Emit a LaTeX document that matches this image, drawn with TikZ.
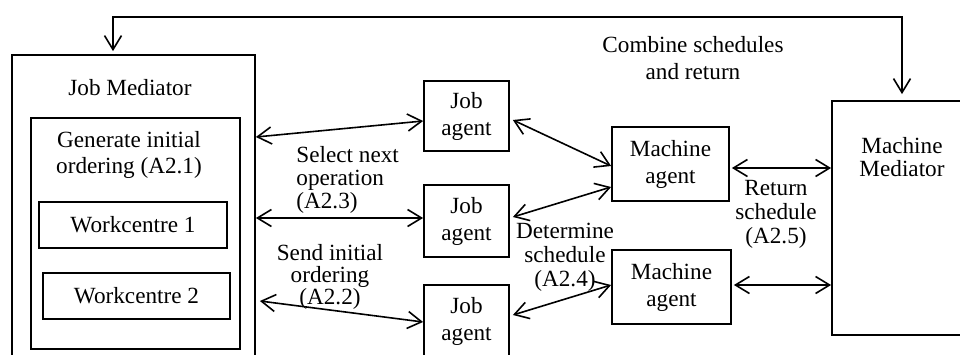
\documentclass[tikz,border=0pt]{standalone}
\usepackage{fontspec}
\setmainfont{Liberation Serif}
\usetikzlibrary{arrows.meta}
\begin{document}
\begin{tikzpicture}[x=0.5pt,y=-0.5pt,
  box/.style={draw,line width=0.9pt,inner sep=0pt,align=center,font=\fontsize{11.6}{13.5}\selectfont},
  lbl/.style={inner sep=0pt,align=center,font=\fontsize{11.6}{12}\selectfont},
  barb/.tip={Straight Barb[length=7pt,width=8.5pt,line width=0.8pt]},
  biarr/.style={line width=0.8pt,barb-barb}]
\useasboundingbox (0,0) rectangle (960,354);
\clip (0,0) rectangle (960,354);
% Job mediator
\node[box,minimum width=121.5pt,minimum height=172.5pt] (jm) at (133.5,227.5) {};
\node[lbl] (jmlabel) at (130,88) {Job Mediator};
\node[box,minimum width=104.5pt,minimum height=115.5pt] (inner) at (135.5,233.5) {};
\node[lbl,font=\fontsize{11.6}{13}\selectfont] (gen) at (129,155) {Generate initial\\ordering (A2.1)};
\node[box,minimum width=94pt,minimum height=23pt] (wc1) at (133,225) {Workcentre 1};
\node[box,minimum width=93.5pt,minimum height=23pt] (wc2) at (136.5,296) {Workcentre 2};
% Job agents
\node[box,minimum width=42.5pt,minimum height=35pt] (ja1) at (466.5,116) {Job\\agent};
\node[box,minimum width=42.5pt,minimum height=36pt] (ja2) at (466.5,221) {Job\\agent};
\node[box,minimum width=42.5pt,minimum height=36pt] (ja3) at (466.5,321) {Job\\agent};
% Machine agents
\node[box,minimum width=58.5pt,minimum height=37pt] (ma1) at (670.5,164) {Machine\\agent};
\node[box,minimum width=59.5pt,minimum height=37pt] (ma2) at (671.5,287) {Machine\\agent};
% Machine mediator
\node[box,minimum width=70pt,minimum height=117pt] (mm) at (902,218) {};
\node[lbl,font=\fontsize{11.6}{11.5}\selectfont] (mmlabel) at (902,157) {Machine\\Mediator};
% labels
\node[lbl,font=\fontsize{11.6}{13.5}\selectfont] (comb) at (693,58.5) {Combine schedules\\and return};
\node[lbl,align=left,anchor=west,font=\fontsize{11.6}{11.5}\selectfont] (sel) at (296,180) {Select next\\operation\\(A2.3)};
\node[lbl,font=\fontsize{11.6}{10.8}\selectfont] (send) at (330,277) {Send initial\\ordering\\(A2.2)};
\node[lbl] (det) at (565,257) {Determine\\schedule\\(A2.4)};
\node[lbl] (ret) at (776,214) {Return\\schedule\\(A2.5)};
% top feedback connector
\coordinate (topL) at (113,17);
\coordinate (topR) at (902,17);
\draw[biarr,shorten <=3pt,shorten >=1.5pt] (mm.north) -- (topR) -- (topL) -- (jm.north -| topL);
% connectors
\draw[biarr] (jm.east |- 0,137) -- (ja1.west |- 0,121);
\draw[biarr] (jm.east |- 0,218) -- (ja2.west |- 0,218);
\draw[biarr] ([xshift=2pt]jm.east |- 0,301) -- (ja3.west |- 0,322);
\draw[biarr] ([xshift=1.5pt]ja1.east |- 0,120) -- (ma1.west |- 0,166);
\draw[biarr] ([xshift=1.5pt]ja2.east |- 0,217) -- (ma1.west |- 0,187);
\draw[biarr] ([xshift=1.5pt]ja3.east |- 0,315) -- (ma2.west |- 0,285);
\draw[biarr] ([xshift=1pt]ma1.east |- 0,168) -- (mm.west |- 0,168);
\draw[biarr] ([xshift=1pt]ma2.east |- 0,285) -- (mm.west |- 0,285);
\end{tikzpicture}
\end{document}
